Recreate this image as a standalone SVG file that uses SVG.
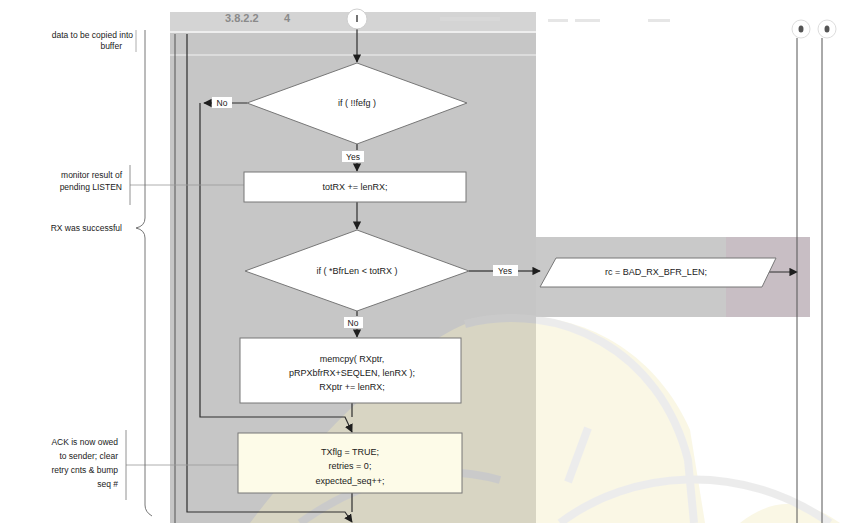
<svg xmlns="http://www.w3.org/2000/svg" width="844" height="523" viewBox="0 0 844 523">
<defs>
<style>
.t{font-family:"Liberation Sans",Arial,sans-serif;font-size:9px;fill:#1a1a1a}
.n{font-family:"Liberation Sans",Arial,sans-serif;font-size:8.5px;fill:#1a1a1a}
.c{stroke:#2e2e2e;stroke-width:1.2;fill:none}
.f{stroke:#555;stroke-width:1;fill:none}
.box{fill:#ffffff;stroke:#777;stroke-width:1}
.wm{stroke:#d2d2d2;stroke-width:8;fill:none}
</style>
<marker id="ah" viewBox="0 0 10 10" refX="9" refY="5" markerWidth="7" markerHeight="7" orient="auto-start-reverse">
<path d="M0,0 L10,5 L0,10 z" fill="#1e1e1e"/>
</marker>
</defs>
<rect width="844" height="523" fill="#ffffff"/>
<!-- shaded backgrounds -->
<rect x="170" y="12" width="366" height="511" fill="#c6c6c6"/>
<rect x="170" y="12" width="366" height="20" fill="#d4d4d4"/>
<rect x="536" y="237" width="190" height="80" fill="#c9c9c9"/>
<rect x="726" y="237" width="84" height="80" fill="#c8bec4"/>
<line x1="170" y1="32" x2="536" y2="32" stroke="#eeeeee" stroke-width="2"/>
<line x1="170" y1="55" x2="536" y2="55" stroke="#dcdcdc" stroke-width="2"/>
<!-- watermark -->
<g opacity="0.4">
<path d="M250,523 C320,430 410,345 470,322 C560,300 650,340 690,430 L705,523 Z" fill="#f3ecbf"/>
<path d="M740,523 C770,500 800,495 840,523 Z" fill="#f3ecbf"/>
<path class="wm" d="M465,324 C560,300 660,350 688,460 L694,523"/>
<path class="wm" d="M560,523 C630,470 740,460 830,523"/>
<path class="wm" d="M588,428 L568,482"/>
<path class="wm" d="M300,523 C360,480 430,460 500,480"/>
</g>
<!-- header -->
<text class="t" x="225" y="22" style="font-weight:bold;font-size:11px;fill:#8a8a8a">3.8.2.2</text>
<text class="t" x="284" y="22" style="font-weight:bold;font-size:11px;fill:#8a8a8a">4</text>
<rect x="440" y="17" width="60" height="4" fill="#d8d8d8"/>
<rect x="548" y="19" width="20" height="3" fill="#e6e6e6"/>
<rect x="575" y="19" width="25" height="3" fill="#e6e6e6"/>
<rect x="648" y="19" width="22" height="3" fill="#e6e6e6"/>
<!-- connectors -->
<g id="connectors">
<line class="c" x1="357" y1="29" x2="357" y2="62" marker-end="url(#ah)"/>
<line class="c" x1="247" y1="103" x2="204" y2="103" marker-end="url(#ah)"/>
<line class="c" x1="357" y1="144" x2="357" y2="150"/>
<line class="c" x1="357" y1="163" x2="357" y2="171" marker-end="url(#ah)"/>
<line class="c" x1="357" y1="202" x2="357" y2="229" marker-end="url(#ah)"/>
<line class="c" x1="469" y1="271" x2="493" y2="271"/>
<line class="c" x1="518" y1="271" x2="540" y2="271" marker-end="url(#ah)"/>
<line class="c" x1="764" y1="272" x2="797" y2="272" marker-end="url(#ah)"/>
<line class="c" x1="357" y1="311" x2="357" y2="316"/>
<line class="c" x1="357" y1="329" x2="357" y2="337" marker-end="url(#ah)"/>
<polyline class="c" points="200,103 200,417 345,417 352,432" marker-end="url(#ah)"/>
<line class="c" x1="352" y1="403" x2="352" y2="417"/>
<line class="f" x1="175" y1="34" x2="175" y2="523"/>
<polyline class="c" points="187,34 187,512 345,512 352,522" marker-end="url(#ah)"/>
<line class="c" x1="352" y1="493" x2="352" y2="512"/>
<line class="f" x1="797" y1="38" x2="797" y2="523"/>
<line class="f" x1="822" y1="38" x2="822" y2="523"/>
<line x1="130" y1="185" x2="244" y2="185" stroke="#9a9a9a" stroke-width="0.8"/>
<line x1="126" y1="465" x2="238" y2="465" stroke="#9a9a9a" stroke-width="0.8"/>
<line x1="130" y1="165" x2="130" y2="205" stroke="#777" stroke-width="0.8"/>
<line x1="126" y1="430" x2="126" y2="500" stroke="#777" stroke-width="0.8"/>
<line x1="136" y1="30" x2="136" y2="52" stroke="#999" stroke-width="0.8"/>
<path d="M145,30 L145,218 Q145,226 136,228 Q145,230 145,238 L145,505 Q145,512 152,516" stroke="#666" stroke-width="0.9" fill="none"/>
</g>
<!-- nodes -->
<g id="start">
<circle cx="357" cy="19" r="10" fill="#ffffff" stroke="#cfcfcf" stroke-width="1"/>
<line x1="357" y1="15" x2="357" y2="22" stroke="#444" stroke-width="1.5"/>
</g>
<g id="conn-a">
<circle cx="801" cy="29" r="9" fill="#ffffff" stroke="#dddddd"/>
<ellipse cx="801" cy="29" rx="2.5" ry="3.5" fill="#555"/>
</g>
<g id="conn-b">
<circle cx="827" cy="29" r="9" fill="#ffffff" stroke="#dddddd"/>
<ellipse cx="827" cy="29" rx="2.5" ry="3.5" fill="#555"/>
</g>
<g id="d1">
<polygon points="357,63 467,103 357,144 247,103" class="box"/>
<text class="t" x="357" y="106" text-anchor="middle">if ( !!fefg )</text>
</g>
<g id="lbl-no1"><rect x="212" y="97" width="20" height="11" fill="#ffffff"/><text class="n" x="222" y="106" text-anchor="middle">No</text></g>
<g id="lbl-yes1"><rect x="342" y="151" width="22" height="11" fill="#ffffff"/><text class="n" x="353" y="160" text-anchor="middle">Yes</text></g>
<g id="b1">
<rect x="244" y="172" width="222" height="30" class="box"/>
<text class="t" x="355" y="190" text-anchor="middle">totRX += lenRX;</text>
</g>
<g id="d2">
<polygon points="357,230 469,271 357,311 245,271" class="box"/>
<text class="t" x="357" y="274" text-anchor="middle">if ( *BfrLen &lt; totRX )</text>
</g>
<g id="lbl-yes2"><rect x="493" y="265" width="25" height="11" fill="#ffffff"/><text class="n" x="505" y="274" text-anchor="middle">Yes</text></g>
<g id="lbl-no2"><rect x="344" y="317" width="19" height="11" fill="#ffffff"/><text class="n" x="353" y="326" text-anchor="middle">No</text></g>
<g id="p1">
<polygon points="556,258 776,258 762,287 540,287" class="box"/>
<text class="t" x="656" y="275" text-anchor="middle">rc = BAD_RX_BFR_LEN;</text>
</g>
<g id="b2">
<rect x="240" y="338" width="221" height="65" class="box"/>
<text class="t" x="352" y="362" text-anchor="middle">memcpy( RXptr,</text>
<text class="t" x="352" y="376" text-anchor="middle">pRPXbfrRX+SEQLEN, lenRX );</text>
<text class="t" x="352" y="390" text-anchor="middle">RXptr += lenRX;</text>
</g>
<g id="b3">
<rect x="238" y="433" width="224" height="60" fill="#fdfbe8" stroke="#777" stroke-width="1"/>
<text class="t" x="350" y="455" text-anchor="middle">TXflg = TRUE;</text>
<text class="t" x="350" y="469" text-anchor="middle">retries = 0;</text>
<text class="t" x="350" y="484" text-anchor="middle">expected_seq++;</text>
</g>
<!-- annotations -->
<g id="note1">
<text class="n" x="133" y="38" text-anchor="end">data to be  copied  into</text>
<text class="n" x="122" y="49" text-anchor="end">buffer</text>
</g>
<g id="note2">
<text class="n" x="122" y="178" text-anchor="end">monitor result of</text>
<text class="n" x="122" y="190" text-anchor="end">pending LISTEN</text>
</g>
<g id="note3">
<text class="n" x="122" y="231" text-anchor="end">RX was successful</text>
</g>
<g id="note4">
<text class="n" x="118" y="445" text-anchor="end">ACK is now owed</text>
<text class="n" x="118" y="459" text-anchor="end">to sender; clear</text>
<text class="n" x="118" y="473" text-anchor="end">retry cnts &amp; bump</text>
<text class="n" x="118" y="487" text-anchor="end">seq #</text>
</g>
</svg>
